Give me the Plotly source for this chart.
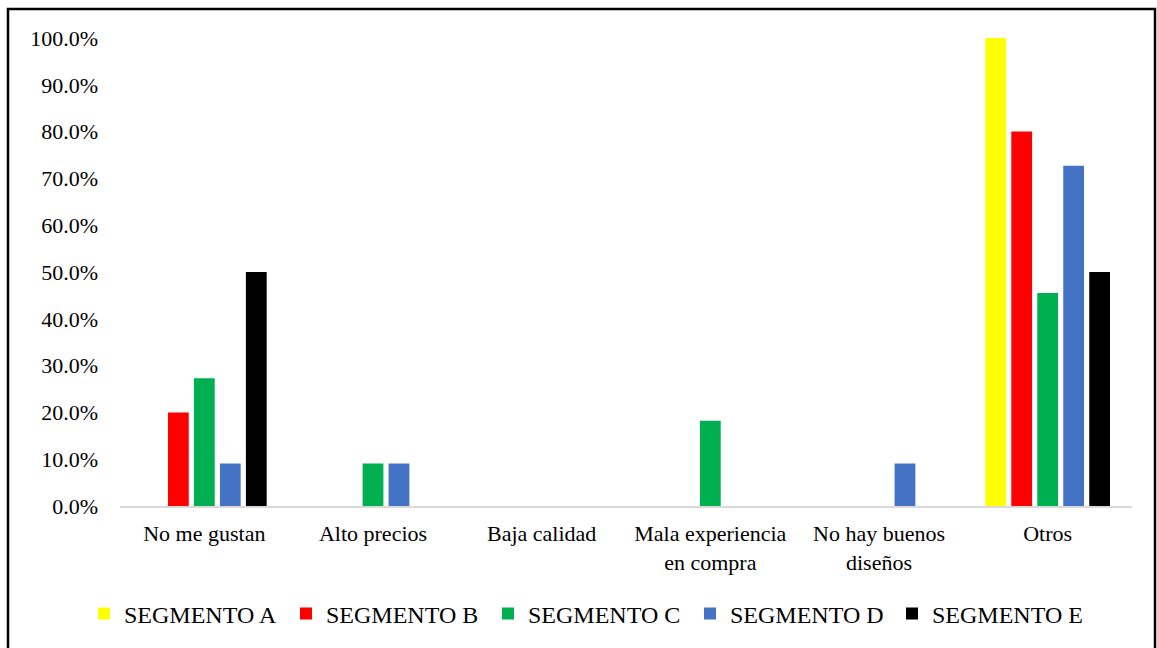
import plotly.graph_objects as go

categories = ["No me gustan", "Alto precios", "Baja calidad",
              "Mala experiencia<br>en compra", "No hay buenos<br>diseños", "Otros"]
seg_a = [0.0, 0.0, 0.0, 0.0, 0.0, 1.0]
seg_b = [0.20, 0.0, 0.0, 0.0, 0.0, 0.80]
seg_c = [0.273, 0.091, 0.0, 0.182, 0.0, 0.455]
seg_d = [0.091, 0.091, 0.0, 0.0, 0.091, 0.727]
seg_e = [0.50, 0.0, 0.0, 0.0, 0.0, 0.50]
series_names = ["SEGMENTO A", "SEGMENTO B", "SEGMENTO C", "SEGMENTO D", "SEGMENTO E"]
colors = ["#FFFF00", "#FF0000", "#00B050", "#4472C4", "#000000"]

fig = go.Figure()
for name, vals, col in zip(series_names, [seg_a, seg_b, seg_c, seg_d, seg_e], colors):
    fig.add_trace(go.Bar(x=categories, y=vals, name=name, marker_color=col,
                         marker_line_width=0))

W, H = 1157, 648
L, R, T, B = 120, 25, 38, 142
pw, ph = W - L - R, H - T - B

def px(x):
    return (x - L) / pw

def py(y):
    return (H - B - y) / ph

FONT = "Liberation Serif, Times New Roman, serif"
fig.update_layout(
    width=W, height=H,
    margin=dict(l=L, r=R, t=T, b=B, autoexpand=False),
    paper_bgcolor="white", plot_bgcolor="white",
    font=dict(family=FONT, size=22, color="black"),
    barmode="group", bargap=0.23, bargroupgap=0.2,
    showlegend=True,
    legend=dict(orientation="h", x=px(84), xanchor="left", y=py(614), yanchor="middle",
                font=dict(size=24), traceorder="normal", itemwidth=30,
                entrywidth=157, entrywidthmode="pixels"),
    xaxis=dict(showline=True, linecolor="#D9D9D9", linewidth=2, ticks="",
               showgrid=False, tickfont=dict(size=22), ticklabelstandoff=7),
    yaxis=dict(range=[0, 1.0], dtick=0.1, tickformat=".1%", showgrid=False,
               showline=False, zeroline=False, ticks="", tickfont=dict(size=22),
               ticklabelstandoff=21),
    shapes=[dict(type="rect", xref="paper", yref="paper",
                 x0=px(8), x1=px(1155), y0=py(668), y1=py(9),
                 line=dict(color="black", width=2.5), fillcolor="rgba(0,0,0,0)")],
)

fig.write_html("out.html", config={"displayModeBar": False},
               post_script="document.body.style.margin='0';document.body.style.overflow='hidden';")
